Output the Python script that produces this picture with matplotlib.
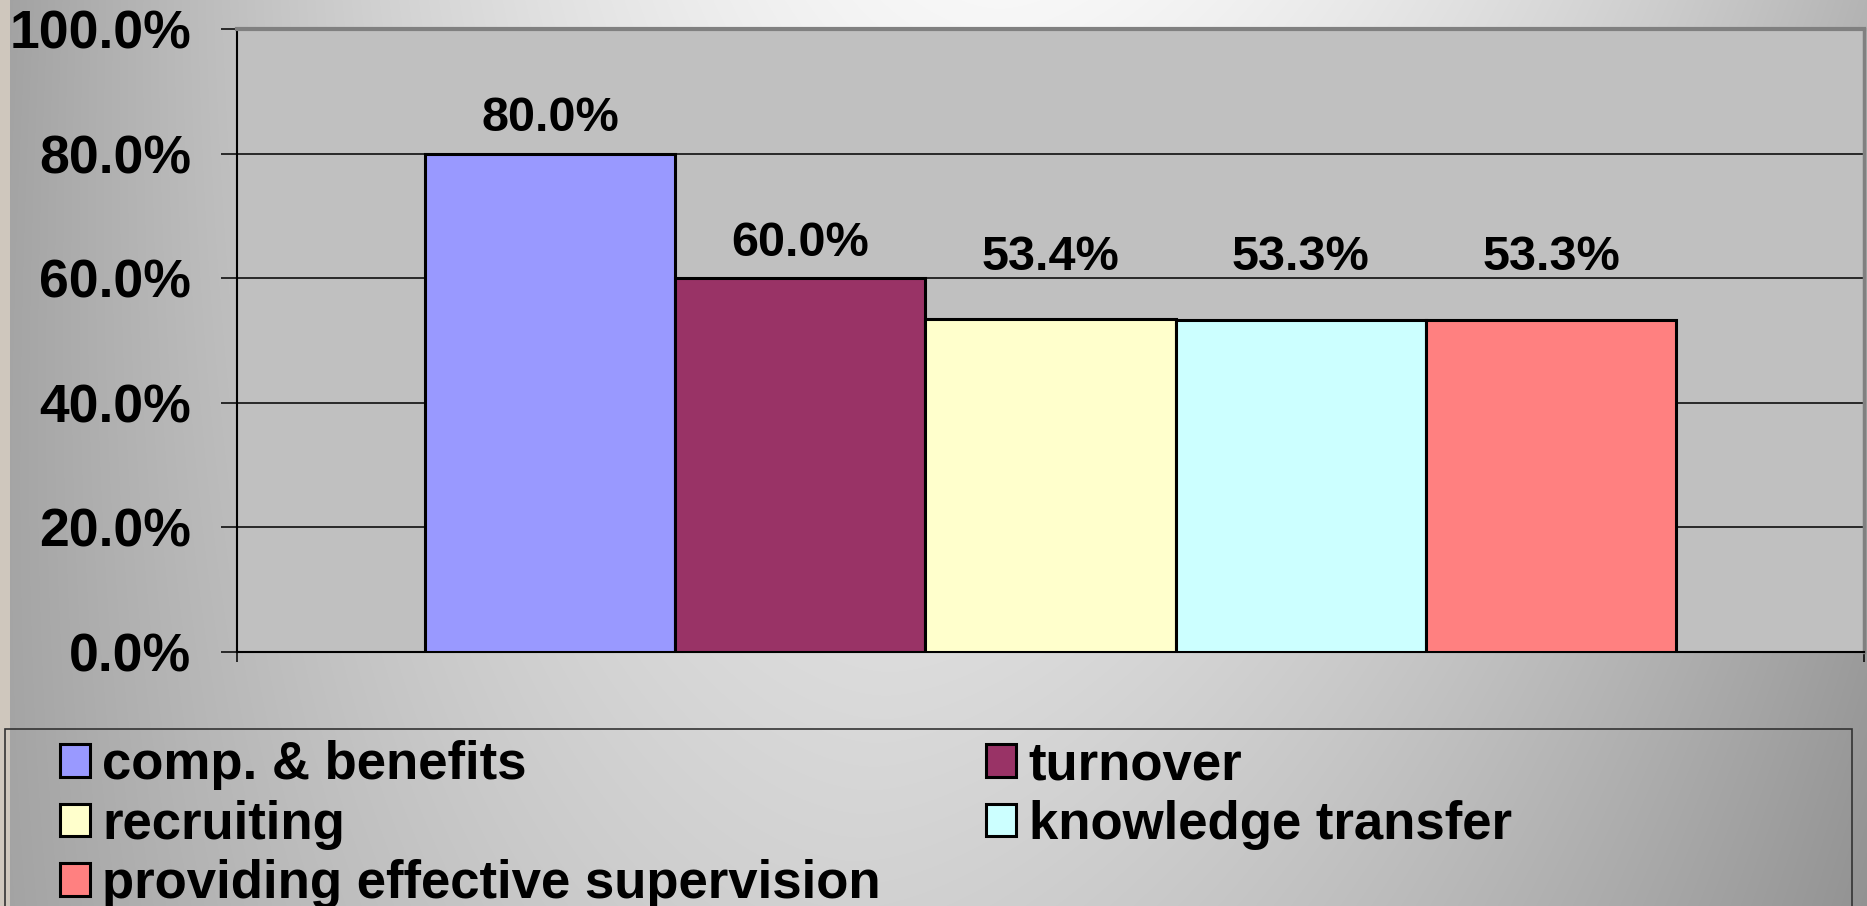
import matplotlib
matplotlib.use('Agg')
import matplotlib.pyplot as plt
import numpy as np
from matplotlib.patches import Rectangle, Patch

plt.rcParams['font.family'] = ['Liberation Sans', 'DejaVu Sans']
plt.rcParams['font.weight'] = 'bold'

# data
series = ['comp. & benefits', 'turnover', 'recruiting', 'knowledge transfer',
          'providing effective supervision']
values = [80.0, 60.0, 53.4, 53.3, 53.3]
colors = ['#9999FF', '#993366', '#FFFFCC', '#CCFFFF', '#FF8080']
yticks = [0, 20, 40, 60, 80, 100]
ytick_labels = ['0.0%', '20.0%', '40.0%', '60.0%', '80.0%', '100.0%']

# extra lift of data labels (pt), excel pushed the last three up
label_lift = [0, 0, 19.5, 19.5, 19.5]

W, H = 1867, 906
fig = plt.figure(figsize=(W / 100, H / 100), dpi=100)

# gray gradient background
bg = fig.add_axes([0, 0, 1, 1], zorder=-10)
yy, xx = np.mgrid[0:H, 0:W]
cx = 1000 - 150 * yy / H
d = np.abs(xx - cx) / 950.0
c = 0.97 - 0.15 * yy / H
e = 0.66 - 0.06 * yy / H
v = c - (c - e) * np.clip(d, 0, 1.2) ** 1.7
img = np.dstack([v, v, v])
img[:, :10] = np.array([0xcf, 0xc7, 0xbd]) / 255.0
bg.imshow(img, aspect='auto', extent=(0, 1, 0, 1), origin='upper')
bg.set_xlim(0, 1)
bg.set_ylim(0, 1)
bg.axis('off')

ax = fig.add_axes([237 / W, 1 - 652 / H, (1864 - 237) / W, (652 - 29) / H])
ax.set_facecolor('#C0C0C0')

w = 1 / 6.5
x = (np.arange(len(values)) - 2) * w
bars = ax.bar(x, values, width=w, color=colors, edgecolor='black', linewidth=2.2, zorder=3)

for xi, val, lift in zip(x, values, label_lift):
    ax.annotate(f'{val:.1f}%', (xi, val), xytext=(0, 16.3 + lift), textcoords='offset points',
                ha='center', va='baseline', fontsize=35, fontweight='bold', zorder=4)

ax.set_xlim(-0.5, 0.5)
ax.set_ylim(0, 100)
ax.set_yticks(yticks)
ax.set_yticklabels(ytick_labels, fontsize=38.5, fontweight='bold')
ax.set_xticks([-0.5, 0.5])
ax.set_xticklabels([])
ax.tick_params(axis='y', direction='out', length=11.5, width=1.1, pad=21.6, colors='black')
ax.tick_params(axis='x', direction='out', length=7.2, width=1.1)
ax.yaxis.grid(True, color='black', linewidth=1.1)
ax.set_axisbelow(True)

ax.spines['top'].set_color('#808080')
ax.spines['top'].set_linewidth(3)
ax.spines['right'].set_color('#808080')
ax.spines['right'].set_linewidth(2.5)
ax.spines['left'].set_color('black')
ax.spines['left'].set_linewidth(1.5)
ax.spines['bottom'].set_color('black')
ax.spines['bottom'].set_linewidth(1.5)

# legend: column-major order so rows read across
order = [0, 2, 4, 1, 3]
handles = [Patch(facecolor=colors[i], edgecolor='black', linewidth=2.2) for i in order]
labels = [series[i] for i in order]
fig.legend(handles, labels, loc='upper left', bbox_to_anchor=(60 / W, 1 - 740 / H),
           ncol=2, frameon=False, prop={'weight': 'bold', 'size': 38},
           handlelength=0.57, handleheight=0.57, handletextpad=0.23,
           labelspacing=0.18, columnspacing=2.0, borderpad=0, borderaxespad=0)

fig.add_artist(Rectangle((5 / W, -0.05), 1847 / W, (906 - 729) / H + 0.05,
                         transform=fig.transFigure, fill=False,
                         edgecolor='#333333', linewidth=1.2))

fig.savefig('out.png', dpi=100)
